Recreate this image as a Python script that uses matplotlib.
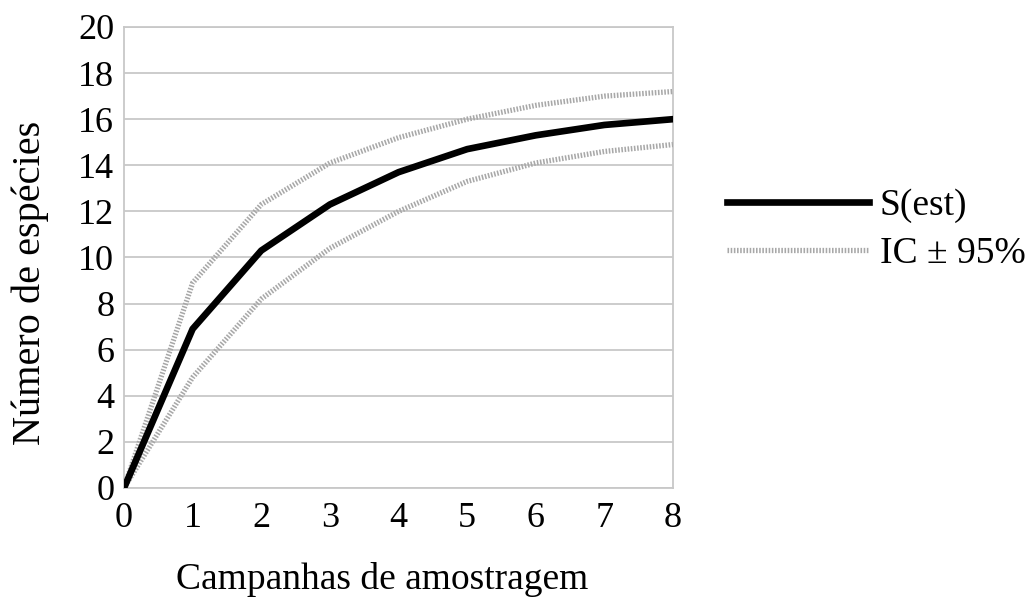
import matplotlib
matplotlib.use('Agg')
import matplotlib.pyplot as plt

plt.rcParams['font.family'] = ['Liberation Serif', 'DejaVu Serif']

campanhas = [0, 1, 2, 3, 4, 5, 6, 7, 8]
s_est = [0, 6.9, 10.3, 12.3, 13.7, 14.7, 15.3, 15.75, 16.0]
ic_sup = [0, 8.9, 12.3, 14.1, 15.2, 16.0, 16.6, 17.0, 17.2]
ic_inf = [0, 4.8, 8.2, 10.4, 12.0, 13.3, 14.1, 14.6, 14.9]

fig = plt.figure(figsize=(10.3, 5.97), dpi=100)
ax = fig.add_axes([0.1204, 0.1826, 0.5330, 0.7722])

# intervalo de confiança pontilhado
ax.plot(campanhas, ic_sup, color='#a8a8a8', lw=3.8, linestyle=(0, (0.3, 0.3)),
        label='IC ± 95%', zorder=3)
ax.plot(campanhas, ic_inf, color='#a8a8a8', lw=3.8, linestyle=(0, (0.3, 0.3)), zorder=3)
ax.plot(campanhas, s_est, color='black', lw=4.8, label='S(est)', zorder=4)

ax.set_xlim(0, 8)
ax.set_ylim(0, 20)
ax.set_xticks(range(0, 9))
ax.set_yticks(range(0, 21, 2))
ax.grid(axis='y', color='#c8c8c8', lw=1.3)
ax.set_axisbelow(True)
for sp in ax.spines.values():
    sp.set_color('#c8c8c8')
    sp.set_linewidth(1.3)
ax.tick_params(length=0, labelsize=26)
ax.tick_params(axis='y', pad=7)
ax.tick_params(axis='x', pad=10)

ax.set_xlabel('Campanhas de amostragem', fontsize=27)
ax.xaxis.set_label_coords(0.47, -0.16)
ax.set_ylabel('Número de espécies', fontsize=29)
ax.yaxis.set_label_coords(-0.137, 0.445)

h, l = ax.get_legend_handles_labels()
fig.legend([h[1], h[0]], [l[1], l[0]], loc='center left',
           bbox_to_anchor=(0.673, 0.615), frameon=False, fontsize=27,
           handlelength=3.8, handletextpad=0.27, labelspacing=0.35)

fig.savefig('out.png', dpi=100)
